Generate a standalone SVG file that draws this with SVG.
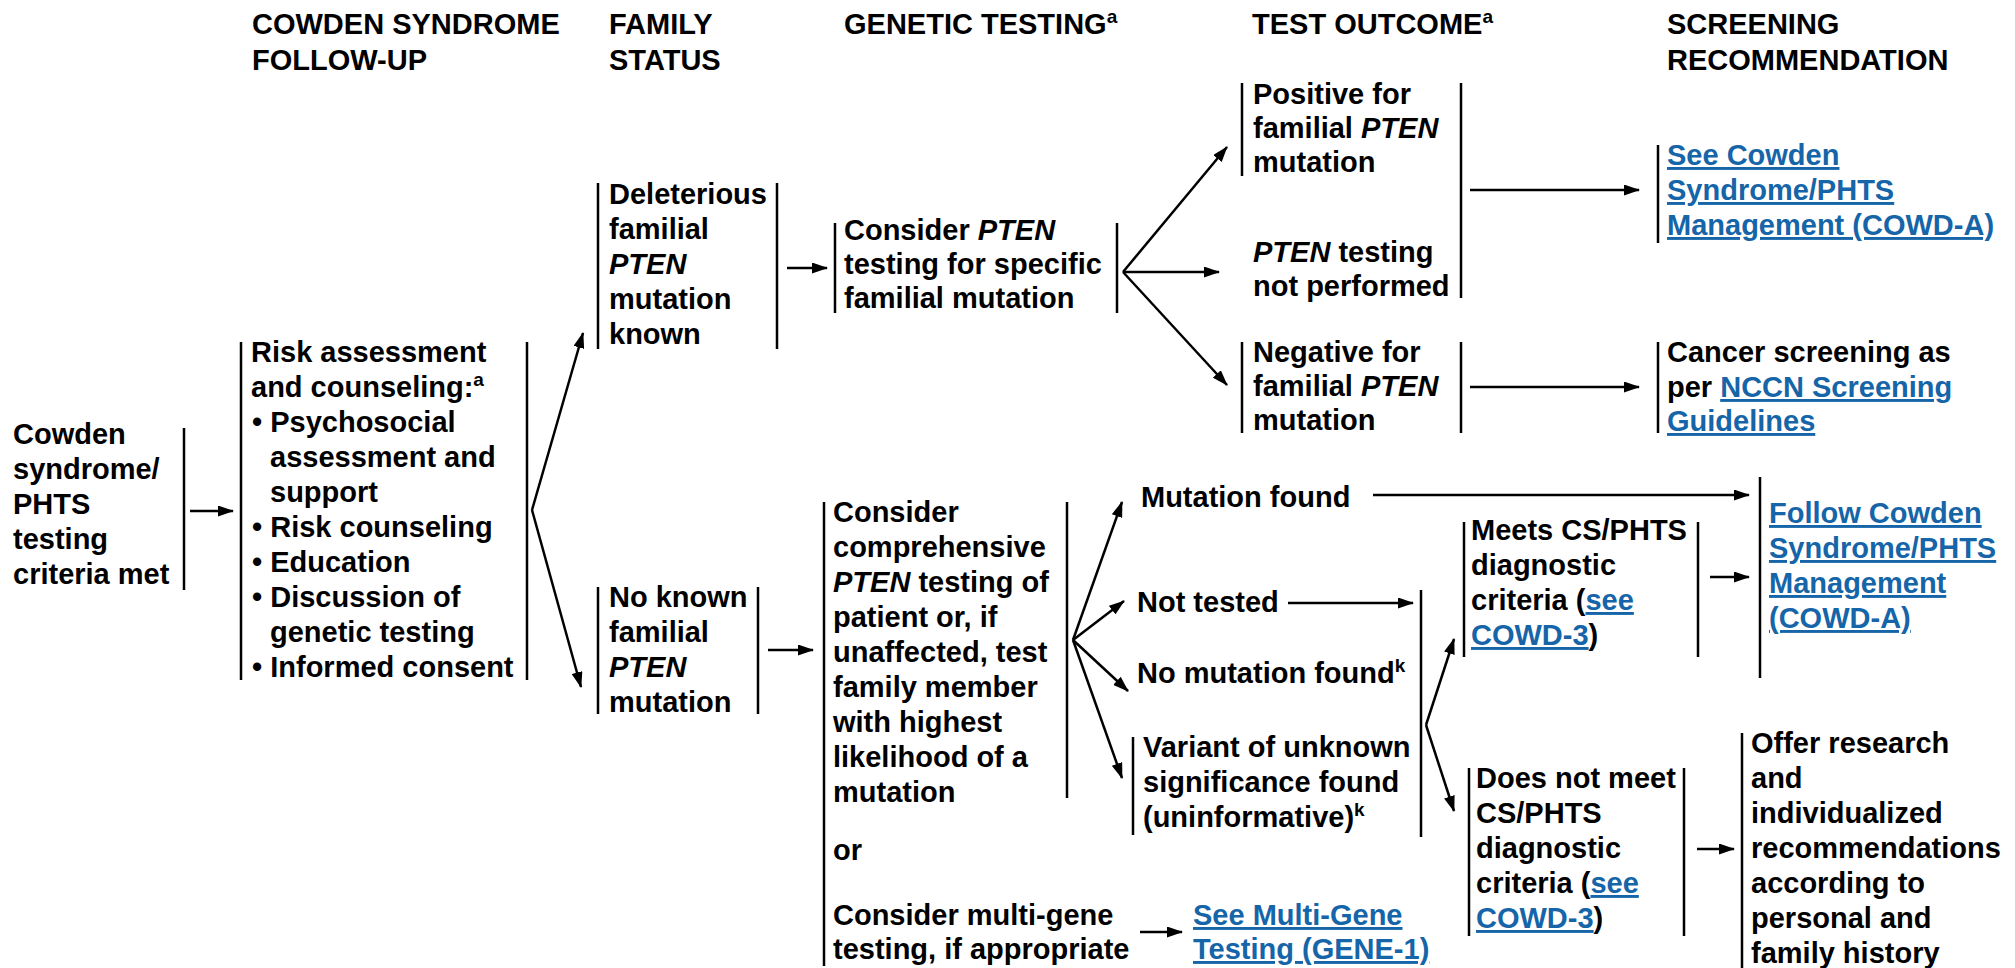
<svg xmlns="http://www.w3.org/2000/svg" width="2015" height="968" viewBox="0 0 2015 968">
<style>
text{font-family:"Liberation Sans",Arial,Helvetica,sans-serif;font-weight:bold;font-size:29px;fill:#000}
.i{font-style:italic}
.lk{fill:#1565a8;text-decoration:underline}
.sup{font-size:19px}
.bar{stroke:#000;stroke-width:2.5;fill:none}
.c{stroke:#000;stroke-width:2.5;fill:none;marker-end:url(#ah)}
</style>
<defs>
<marker id="ah" viewBox="0 0 16 11" refX="15" refY="5.5" markerWidth="16" markerHeight="11" markerUnits="userSpaceOnUse" orient="auto"><path d="M0,0 L16,5.5 L0,11 z" fill="#000"/></marker>
</defs>
<rect width="2015" height="968" fill="#fff"/>

<g id="headers">
<text><tspan x="252" y="34">COWDEN SYNDROME</tspan><tspan x="252" y="70">FOLLOW-UP</tspan></text>
<text><tspan x="609" y="34">FAMILY</tspan><tspan x="609" y="70">STATUS</tspan></text>
<text x="844" y="34">GENETIC TESTING<tspan class="sup" dy="-11">a</tspan></text>
<text x="1252" y="34">TEST OUTCOME<tspan class="sup" dy="-11">a</tspan></text>
<text><tspan x="1667" y="34">SCREENING</tspan><tspan x="1667" y="70">RECOMMENDATION</tspan></text>
</g>

<g id="n-cowden">
<text><tspan x="13" y="444">Cowden</tspan><tspan x="13" y="479">syndrome/</tspan><tspan x="13" y="514">PHTS</tspan><tspan x="13" y="549">testing</tspan><tspan x="13" y="584">criteria met</tspan></text>
<line class="bar" x1="184" y1="428" x2="184" y2="590"/>
</g>

<g id="n-risk">
<line class="bar" x1="241" y1="342" x2="241" y2="680"/>
<line class="bar" x1="527" y1="342" x2="527" y2="680"/>
<text><tspan x="251" y="362">Risk assessment</tspan><tspan x="251" y="397">and counseling:<tspan class="sup" dy="-11">a</tspan></tspan><tspan x="252" y="432">• Psychosocial</tspan><tspan x="270" y="467">assessment and</tspan><tspan x="270" y="502">support</tspan><tspan x="252" y="537">• Risk counseling</tspan><tspan x="252" y="572">• Education</tspan><tspan x="252" y="607">• Discussion of</tspan><tspan x="270" y="642">genetic testing</tspan><tspan x="252" y="677">• Informed consent</tspan></text>
</g>

<g id="n-deleterious">
<line class="bar" x1="598" y1="183" x2="598" y2="349"/>
<line class="bar" x1="777" y1="183" x2="777" y2="349"/>
<text><tspan x="609" y="204">Deleterious</tspan><tspan x="609" y="239">familial</tspan><tspan x="609" y="274" class="i">PTEN</tspan><tspan x="609" y="309">mutation</tspan><tspan x="609" y="344">known</tspan></text>
</g>

<g id="n-consider-pten">
<line class="bar" x1="835" y1="223" x2="835" y2="313"/>
<line class="bar" x1="1117" y1="223" x2="1117" y2="313"/>
<text><tspan x="844" y="240">Consider <tspan class="i">PTEN</tspan></tspan><tspan x="844" y="274">testing for specific</tspan><tspan x="844" y="308">familial mutation</tspan></text>
</g>

<g id="n-positive">
<line class="bar" x1="1242" y1="83" x2="1242" y2="176"/>
<text><tspan x="1253" y="104">Positive for</tspan><tspan x="1253" y="138">familial <tspan class="i">PTEN</tspan></tspan><tspan x="1253" y="172">mutation</tspan></text>
</g>

<g id="n-not-performed">
<text><tspan x="1253" y="262"><tspan class="i">PTEN</tspan> testing</tspan><tspan x="1253" y="296">not performed</tspan></text>
<line class="bar" x1="1461" y1="83" x2="1461" y2="298"/>
</g>

<g id="n-negative">
<line class="bar" x1="1242" y1="342" x2="1242" y2="433"/>
<line class="bar" x1="1461" y1="342" x2="1461" y2="433"/>
<text><tspan x="1253" y="362">Negative for</tspan><tspan x="1253" y="396">familial <tspan class="i">PTEN</tspan></tspan><tspan x="1253" y="430">mutation</tspan></text>
</g>

<g id="n-see-cowden">
<line class="bar" x1="1658" y1="145" x2="1658" y2="243"/>
<text class="lk"><tspan x="1667" y="165">See Cowden</tspan><tspan x="1667" y="200">Syndrome/PHTS</tspan><tspan x="1667" y="235">Management (COWD-A)</tspan></text>
</g>

<g id="n-cancer-screening">
<line class="bar" x1="1658" y1="342" x2="1658" y2="433"/>
<text><tspan x="1667" y="362">Cancer screening as</tspan><tspan x="1667" y="397">per <tspan class="lk">NCCN Screening</tspan></tspan><tspan x="1667" y="431" class="lk">Guidelines</tspan></text>
</g>

<g id="n-no-known">
<line class="bar" x1="598" y1="587" x2="598" y2="714"/>
<line class="bar" x1="758" y1="587" x2="758" y2="714"/>
<text><tspan x="609" y="607">No known</tspan><tspan x="609" y="642">familial</tspan><tspan x="609" y="677" class="i">PTEN</tspan><tspan x="609" y="712">mutation</tspan></text>
</g>

<g id="n-comprehensive">
<line class="bar" x1="824" y1="502" x2="824" y2="966"/>
<line class="bar" x1="1067" y1="502" x2="1067" y2="798"/>
<text><tspan x="833" y="522">Consider</tspan><tspan x="833" y="557">comprehensive</tspan><tspan x="833" y="592"><tspan class="i">PTEN</tspan> testing of</tspan><tspan x="833" y="627">patient or, if</tspan><tspan x="833" y="662">unaffected, test</tspan><tspan x="833" y="697">family member</tspan><tspan x="833" y="732">with highest</tspan><tspan x="833" y="767">likelihood of a</tspan><tspan x="833" y="802">mutation</tspan><tspan x="833" y="860">or</tspan><tspan x="833" y="925">Consider multi-gene</tspan><tspan x="833" y="959">testing, if appropriate</tspan></text>
</g>

<g id="n-multigene">
<text class="lk"><tspan x="1193" y="925">See Multi-Gene</tspan><tspan x="1193" y="959">Testing (GENE-1)</tspan></text>
</g>

<g id="n-mutation-found">
<text x="1141" y="507">Mutation found</text>
</g>

<g id="n-not-tested">
<text x="1137" y="612">Not tested</text>
</g>

<g id="n-no-mutation">
<text x="1137" y="683">No mutation found<tspan class="sup" dy="-11">k</tspan></text>
</g>

<g id="n-variant">
<line class="bar" x1="1133" y1="737" x2="1133" y2="835"/>
<text><tspan x="1143" y="757">Variant of unknown</tspan><tspan x="1143" y="792">significance found</tspan><tspan x="1143" y="827">(uninformative)<tspan class="sup" dy="-11">k</tspan></tspan></text>
<line class="bar" x1="1421" y1="590" x2="1421" y2="837"/>
</g>

<g id="n-meets">
<line class="bar" x1="1464" y1="522" x2="1464" y2="657"/>
<line class="bar" x1="1698" y1="522" x2="1698" y2="657"/>
<text><tspan x="1471" y="540">Meets CS/PHTS</tspan><tspan x="1471" y="575">diagnostic</tspan><tspan x="1471" y="610">criteria (<tspan class="lk">see</tspan></tspan><tspan x="1471" y="645"><tspan class="lk">COWD-3</tspan>)</tspan></text>
</g>

<g id="n-follow-cowden">
<line class="bar" x1="1760" y1="477" x2="1760" y2="678"/>
<text class="lk"><tspan x="1769" y="523">Follow Cowden</tspan><tspan x="1769" y="558">Syndrome/PHTS</tspan><tspan x="1769" y="593">Management</tspan><tspan x="1769" y="628">(COWD-A)</tspan></text>
</g>

<g id="n-does-not-meet">
<line class="bar" x1="1469" y1="768" x2="1469" y2="936"/>
<line class="bar" x1="1684" y1="768" x2="1684" y2="936"/>
<text><tspan x="1476" y="788">Does not meet</tspan><tspan x="1476" y="823">CS/PHTS</tspan><tspan x="1476" y="858">diagnostic</tspan><tspan x="1476" y="893">criteria (<tspan class="lk">see</tspan></tspan><tspan x="1476" y="928"><tspan class="lk">COWD-3</tspan>)</tspan></text>
</g>

<g id="n-offer">
<line class="bar" x1="1742" y1="733" x2="1742" y2="968"/>
<text><tspan x="1751" y="753">Offer research</tspan><tspan x="1751" y="788">and</tspan><tspan x="1751" y="823">individualized</tspan><tspan x="1751" y="858">recommendations</tspan><tspan x="1751" y="893">according to</tspan><tspan x="1751" y="928">personal and</tspan><tspan x="1751" y="963">family history</tspan></text>
</g>

<g id="connectors">
<line class="c" x1="190" y1="511" x2="233" y2="511"/>
<line class="c" x1="532" y1="510" x2="583" y2="333"/>
<line class="c" x1="532" y1="510" x2="581" y2="687"/>
<line class="c" x1="787" y1="268" x2="827" y2="268"/>
<line class="c" x1="1123" y1="272" x2="1227" y2="147"/>
<line class="c" x1="1123" y1="272" x2="1219" y2="272"/>
<line class="c" x1="1123" y1="272" x2="1227" y2="385"/>
<line class="c" x1="1470" y1="190" x2="1639" y2="190"/>
<line class="c" x1="1470" y1="387" x2="1639" y2="387"/>
<line class="c" x1="768" y1="650" x2="813" y2="650"/>
<line class="c" x1="1073" y1="640" x2="1122" y2="502"/>
<line class="c" x1="1073" y1="640" x2="1124" y2="601"/>
<line class="c" x1="1073" y1="640" x2="1128" y2="691"/>
<line class="c" x1="1073" y1="640" x2="1122" y2="778"/>
<line class="c" x1="1373" y1="495" x2="1749" y2="495"/>
<line class="c" x1="1288" y1="603" x2="1413" y2="603"/>
<line class="c" x1="1426" y1="725" x2="1454" y2="639"/>
<line class="c" x1="1426" y1="725" x2="1454" y2="811"/>
<line class="c" x1="1710" y1="577" x2="1749" y2="577"/>
<line class="c" x1="1697" y1="849" x2="1734" y2="849"/>
<line class="c" x1="1140" y1="932" x2="1182" y2="932"/>
</g>
</svg>
